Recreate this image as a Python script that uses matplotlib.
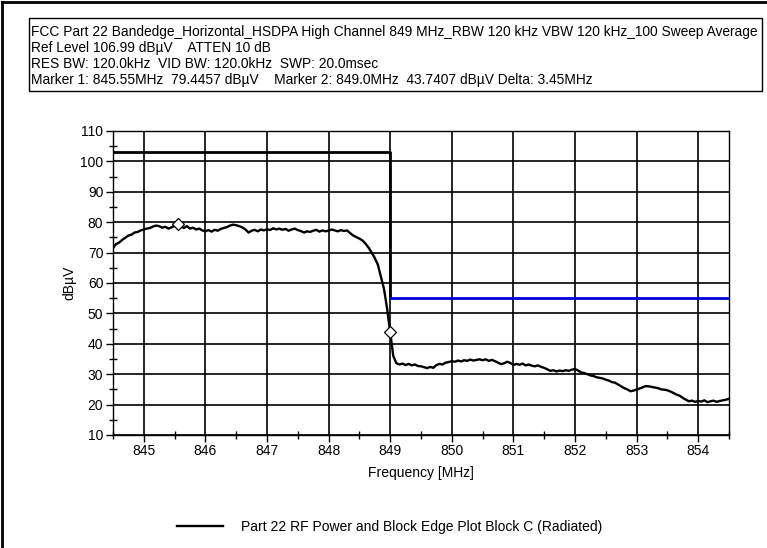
import numpy as np
import matplotlib
matplotlib.use("Agg")
import matplotlib.pyplot as plt
from matplotlib.lines import Line2D
from matplotlib.ticker import MultipleLocator

plt.rcParams["font.family"] = ["Liberation Sans", "DejaVu Sans"]

# sweep: 844.5 .. 854.5 MHz, 0.05 MHz steps
freq = np.linspace(844.5, 854.5, 201)
level = [
    71.5, 72.8, 73.3, 74.2, 74.9, 75.6, 75.9, 76.6, 76.8, 77.3, 77.6, 77.9, 78.1, 78.6, 78.9, 78.7, 78.2, 78.5, 77.9, 78.3,
    78.8, 79.4, 78.6, 78.1, 78.7, 77.9, 78.2, 77.6, 77.9, 77.3, 77.0, 77.4, 76.9, 77.5, 77.2, 77.8, 78.1, 78.4, 78.9, 79.2,
    79.0, 78.7, 78.3, 77.6, 76.6, 77.2, 77.5, 77.0, 77.6, 77.3, 77.7, 77.4, 78.0, 77.6, 77.9, 77.5, 77.8, 77.2, 77.6, 77.9,
    77.4, 77.1, 76.6, 77.0, 76.8, 77.2, 77.5, 76.9, 77.3, 77.0, 77.2, 77.6, 77.3, 77.0, 77.4, 77.1, 77.3, 76.4, 75.6, 75.1,
    74.6, 74.0, 72.9, 71.6, 70.0, 68.2, 66.0, 62.0, 58.0, 51.5, 43.7, 36.0, 33.6, 33.2, 33.5, 33.0, 33.4, 32.9, 33.2, 32.7,
    32.6, 32.3, 32.0, 32.4, 32.1, 33.0, 33.4, 33.2, 33.8, 34.0, 34.3, 34.1, 34.5, 34.2, 34.6, 34.4, 34.8, 34.5, 34.7, 34.9,
    34.6, 34.9, 34.4, 34.7, 34.3, 33.8, 33.3, 33.6, 34.1, 33.7, 33.0, 33.4, 33.1, 33.5, 32.9, 33.2, 32.8, 32.6, 32.9, 32.4,
    32.1, 31.6, 31.1, 31.3, 30.9, 31.2, 31.0, 31.3, 31.1, 31.5, 31.7, 31.2, 30.6, 30.4, 30.0, 29.6, 29.4, 29.0, 28.8, 28.6,
    28.2, 27.9, 27.4, 27.2, 26.6, 26.0, 25.4, 25.0, 24.4, 24.6, 25.0, 25.3, 25.7, 26.1, 26.0, 25.8, 25.6, 25.4, 25.0, 24.9,
    24.7, 24.3, 23.8, 23.3, 22.9, 22.2, 21.6, 21.1, 21.3, 20.9, 21.2, 21.0, 21.4, 20.8, 21.1, 21.3, 20.9, 21.2, 21.4, 21.6,
    21.9,
]

# limit lines
limit_in_f = [844.5, 849.0, 849.0]
limit_in_v = [103, 103, 55]
limit_out_f = [849.0, 854.5]
limit_out_v = [55, 55]

marker_f = [845.55, 849.0]
marker_v = [79.4457, 43.7407]

header = [
    "FCC Part 22 Bandedge_Horizontal_HSDPA High Channel 849 MHz_RBW 120 kHz VBW 120 kHz_100 Sweep Average",
    "Ref Level 106.99 dB\u00b5V    ATTEN 10 dB",
    "RES BW: 120.0kHz  VID BW: 120.0kHz  SWP: 20.0msec",
    "Marker 1: 845.55MHz  79.4457 dB\u00b5V    Marker 2: 849.0MHz  43.7407 dB\u00b5V Delta: 3.45MHz",
]
xticks = [845, 846, 847, 848, 849, 850, 851, 852, 853, 854]
legend_label = "Part 22 RF Power and Block Edge Plot Block C (Radiated)"

W, H = 767, 548
fig = plt.figure(figsize=(W / 100, H / 100), dpi=100)
ax = fig.add_axes([113 / W, 1 - 435 / H, (729 - 113) / W, (435 - 131) / H])

ax.grid(True, which="major", color="black", linewidth=1.2)
ax.set_axisbelow(True)
ax.plot(limit_in_f, limit_in_v, color="black", linewidth=2.0)
ax.plot(limit_out_f, limit_out_v, color="#0000dd", linewidth=2.0)
trace, = ax.plot(freq, level, color="black", linewidth=1.7)
ax.plot(marker_f, marker_v, linestyle="none", marker="D", markersize=6,
        markerfacecolor="white", markeredgecolor="black", markeredgewidth=0.9)

ax.set_xlim(844.5, 854.5)
ax.set_ylim(10, 110)
ax.set_xticks(xticks)
ax.xaxis.set_minor_locator(MultipleLocator(0.5))
ax.yaxis.set_major_locator(MultipleLocator(10))
ax.yaxis.set_minor_locator(MultipleLocator(5))
ax.tick_params(which="major", direction="out", length=5, width=1, labelsize=10, colors="black")
ax.tick_params(which="minor", direction="inout", length=6, width=1)
ax.tick_params(axis="x", pad=1.5)
ax.tick_params(axis="y", pad=2)
for s in ax.spines.values():
    s.set_linewidth(1.0)
    s.set_color("black")

ax.set_xlabel("Frequency [MHz]", fontsize=10, labelpad=6)
ax.set_ylabel("dB\u00b5V", fontsize=10, labelpad=3)

# header box
box_l, box_r, box_t, box_b = 29, 762, 18, 91
fig.patches.append(plt.Rectangle((box_l / W, 1 - box_b / H), (box_r - box_l) / W, (box_b - box_t) / H,
                                 transform=fig.transFigure, fill=False, edgecolor="black", linewidth=1.0))
for i, line in enumerate(header):
    fig.text(31 / W, 1 - (32 + 16 * i) / H, line, fontsize=9.9, va="center", ha="left")

# outer frame (left and top)
fig.lines.append(Line2D([2 / W, 2 / W], [0, 1 - 2 / H], transform=fig.transFigure, color="black", linewidth=2))
fig.lines.append(Line2D([2 / W, 1], [1 - 2 / H, 1 - 2 / H], transform=fig.transFigure, color="black", linewidth=2))

fig.legend([trace], [legend_label], loc="center", bbox_to_anchor=(390 / W, 1 - 527 / H),
           frameon=False, fontsize=10, handlelength=3.3, handletextpad=1.3)

fig.savefig("out.png", dpi=100)
